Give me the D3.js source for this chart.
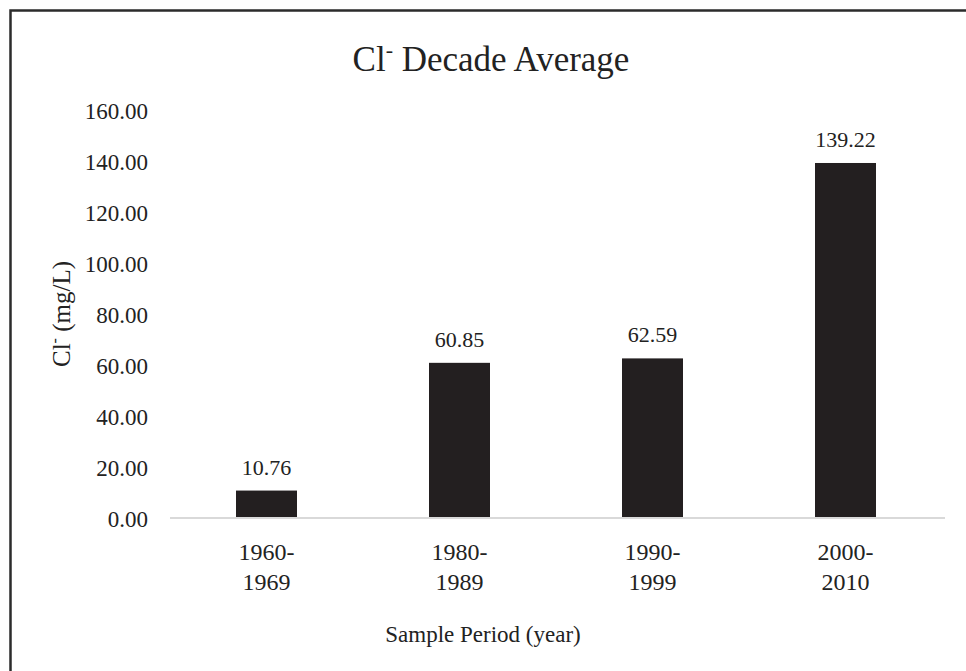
<!DOCTYPE html>
<html>
<head>
<meta charset="utf-8">
<script src="https://cdn.jsdelivr.net/npm/d3@7"></script>
<style>
  html, body { margin: 0; padding: 0; background: #fff; }
  svg { display: block; font-family: "Liberation Serif", "Times New Roman", serif; }
</style>
</head>
<body>
<svg id="chart" width="966" height="671"></svg>
<script>
const categories = [["1960-", "1969"], ["1980-", "1989"], ["1990-", "1999"], ["2000-", "2010"]];
const values = [10.76, 60.85, 62.59, 139.22];
const yTicks = [0, 20, 40, 60, 80, 100, 120, 140, 160];

const svg = d3.select("#chart");
const plot = { left: 170, right: 942, top: 110, bottom: 518 };

// outer border (extends past right/bottom edges)
svg.append("rect")
  .attr("x", 10.5).attr("y", 10.5)
  .attr("width", 1000).attr("height", 700)
  .attr("fill", "#fff").attr("stroke", "#2b2b2b").attr("stroke-width", 2.5);

const keys = categories.map(c => c.join(""));
const x = d3.scaleBand().domain(keys).range([plot.left, plot.right]).paddingInner(0.684).paddingOuter(0.342);
const y = d3.scaleLinear().domain([0, 160]).range([plot.bottom, plot.top]);

// y axis labels
const yAxis = d3.axisLeft(y).tickValues(yTicks).tickFormat(d3.format(".2f")).tickSize(0).tickPadding(0);
const gy = svg.append("g").attr("transform", `translate(148,0)`).call(yAxis);
gy.select(".domain").remove();
gy.selectAll("text").attr("font-size", 23).attr("fill", "#222")
  .attr("font-family", "Liberation Serif, serif").attr("dy", "0.35em");

// bars
svg.append("g").selectAll("rect").data(values).join("rect")
  .attr("x", (d, i) => x(keys[i]))
  .attr("width", x.bandwidth())
  .attr("y", d => y(d))
  .attr("height", d => y(0) - y(d))
  .attr("fill", "#231f20");

// baseline axis line
const xAxis = d3.axisBottom(x).tickSize(0).tickFormat("");
const gx = svg.append("g").attr("transform", `translate(0,${plot.bottom})`).call(xAxis);
gx.select(".domain").attr("stroke", "#d9d9d9").attr("stroke-width", 2)
  .attr("d", `M${plot.left},0H945`);

// data labels
svg.append("g").selectAll("text").data(values).join("text")
  .attr("x", (d, i) => x(keys[i]) + x.bandwidth() / 2)
  .attr("y", d => y(d) - 16)
  .attr("text-anchor", "middle")
  .attr("font-size", 22).attr("fill", "#222")
  .text(d => d3.format(".2f")(d));

// x category labels (two lines)
const xl = svg.append("g").selectAll("text").data(categories).join("text")
  .attr("x", (d, i) => x(keys[i]) + x.bandwidth() / 2)
  .attr("y", 560)
  .attr("text-anchor", "middle")
  .attr("font-size", 24).attr("fill", "#222");
xl.each(function(d, i) {
  const t = d3.select(this);
  const cx = x(keys[i]) + x.bandwidth() / 2;
  t.append("tspan").attr("x", cx).attr("dy", 0).text(d[0]);
  t.append("tspan").attr("x", cx).attr("dy", 30).text(d[1]);
});

// title
const title = svg.append("text").attr("x", 491).attr("y", 71)
  .attr("text-anchor", "middle").attr("font-size", 35).attr("fill", "#222");
title.append("tspan").text("Cl");
title.append("tspan").attr("font-size", 22).attr("dy", -14).text("-");
title.append("tspan").attr("dy", 14).text(" Decade Average");

// x axis title
svg.append("text").attr("x", 483).attr("y", 642)
  .attr("text-anchor", "middle").attr("font-size", 23).attr("fill", "#222")
  .text("Sample Period (year)");

// y axis title
const yt = svg.append("text")
  .attr("transform", "translate(70,314) rotate(-90)")
  .attr("text-anchor", "middle").attr("font-size", 25).attr("fill", "#222");
yt.append("tspan").text("Cl");
yt.append("tspan").attr("font-size", 16).attr("dy", -10).text("-");
yt.append("tspan").attr("dy", 10).text(" (mg/L)");
</script>
</body>
</html>
